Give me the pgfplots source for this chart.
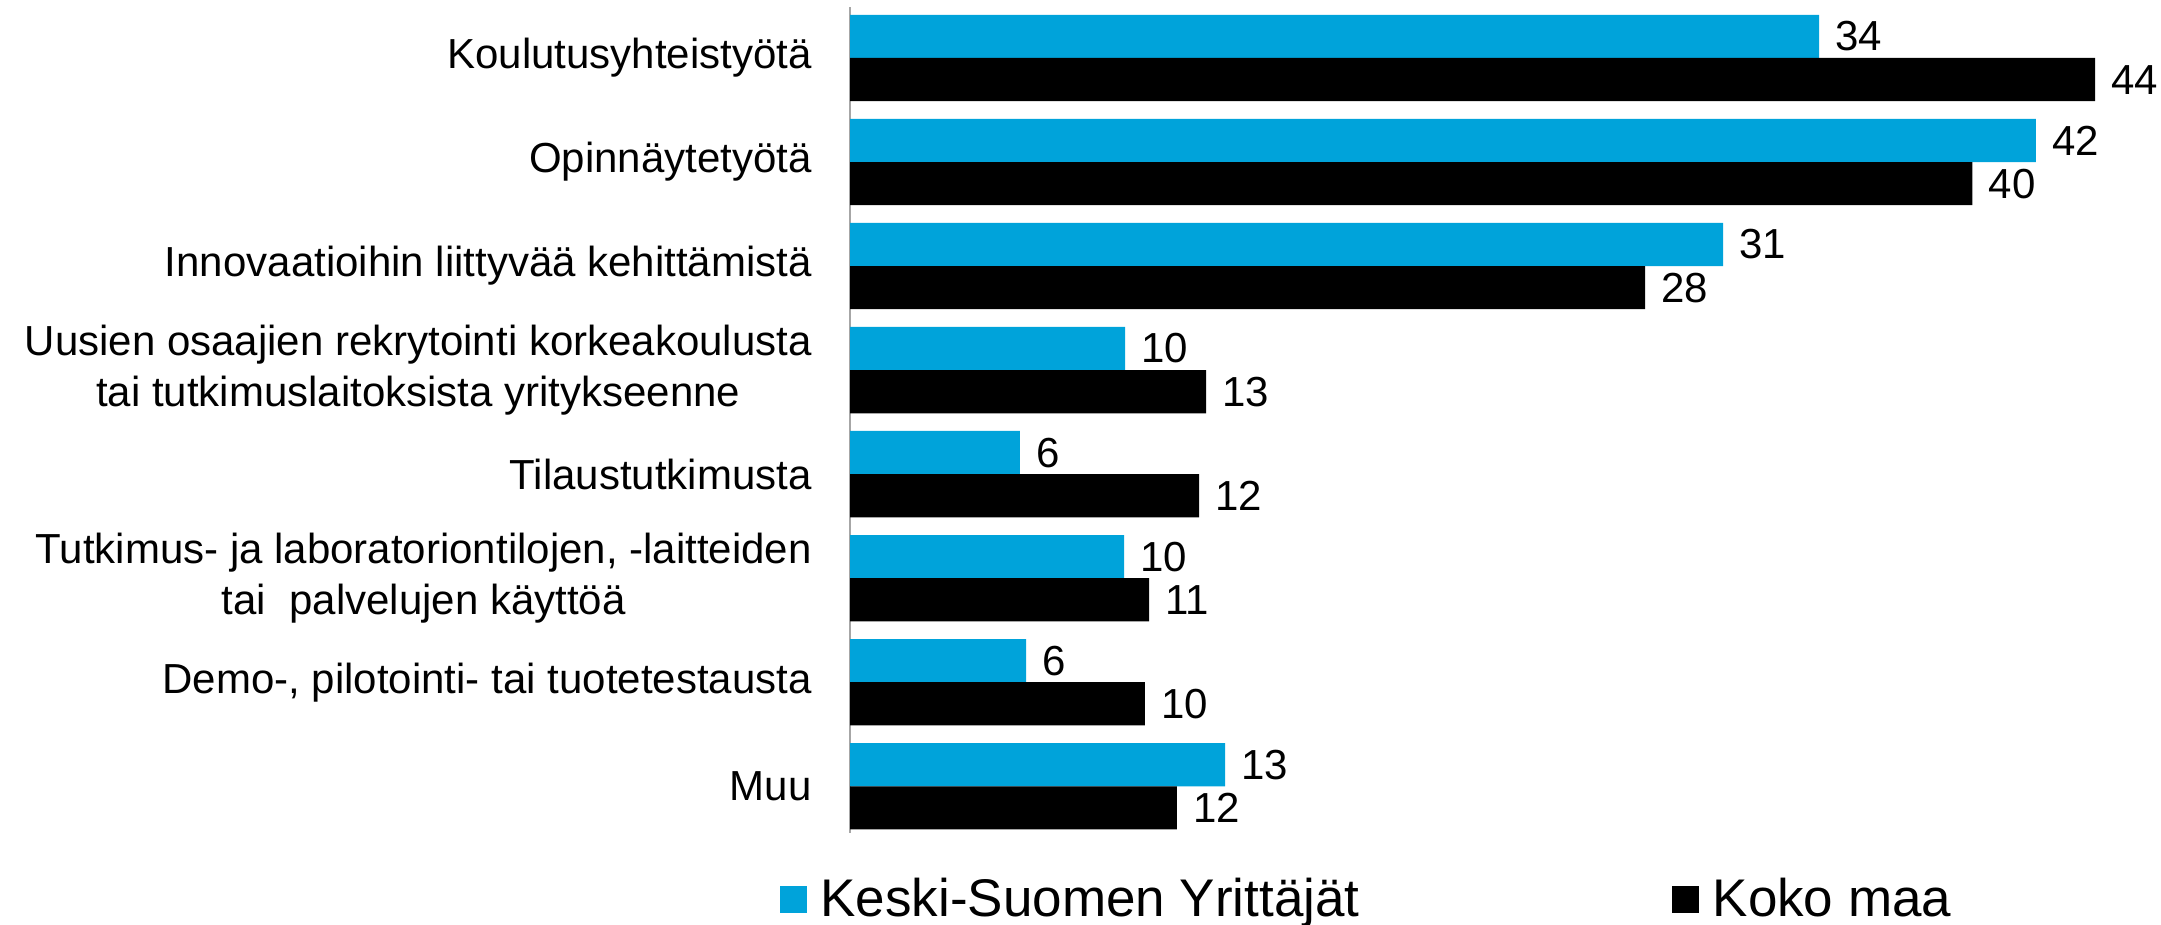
\documentclass[border=0pt]{standalone}
\usepackage{fontspec}
\setmainfont{Liberation Sans}
\usepackage{pgfplots}
\pgfplotsset{compat=1.18}

\definecolor{ksblue}{RGB}{0,163,218}

\begin{document}
\begin{tikzpicture}
\begin{axis}[
    name=ax,
    scale only axis,
    width=650.9pt, height=413pt,
    xbar,
    xmin=0, xmax=46,
    ymin=-0.49, ymax=7.45,
    y dir=reverse,
    bar width=0.415,
    axis lines*=left,
    x axis line style={draw=none},
    y axis line style={draw=gray!70, line width=1pt},
    xtick=\empty,
    ytick={0,...,7},
    yticklabels={
        {Koulutusyhteistyötä},
        {Opinnäytetyötä},
        {Innovaatioihin liittyvää kehittämistä},
        {Uusien osaajien rekrytointi korkeakoulusta\\tai tutkimuslaitoksista yritykseenne},
        {Tilaustutkimusta},
        {Tutkimus- ja laboratoriontilojen, -laitteiden\\tai~ palvelujen käyttöä},
        {Demo-, pilotointi- tai tuotetestausta},
        {Muu},
    },
    major tick length=0pt,
    yticklabel style={font=\fontsize{21}{25.5}\selectfont, align=center,
        anchor=east, inner sep=0pt, xshift=-19pt},
    % bars carry the unrounded lengths, labels show whole numbers
    nodes near coords={\pgfmathprintnumber[fixed, precision=0]{\pgfplotspointmeta}},
    nodes near coords style={font=\fontsize{21}{25.5}\selectfont, text=black,
        anchor=west, inner sep=0pt, xshift=8pt,
        /pgf/number format/assume math mode=true},
    legend columns=2,
    legend style={
        at={(-0.0545,-0.080)}, anchor=west,
        draw=none, inner sep=0pt,
        font=\fontsize{26.5}{30}\selectfont,
        /tikz/every odd column/.append style={column sep=7pt},
        /tikz/every even column/.append style={column sep=156pt},
        nodes={inner sep=0pt},
    },
    legend image code/.code={\fill[#1] (0pt,-6.75pt) rectangle (13.5pt,6.75pt);},
]

% Keski-Suomen Yrittäjät
\addplot[draw=none, fill=ksblue, bar shift=-0.2075]
    coordinates {(34.24,0) (41.9,1) (30.85,2) (9.72,3) (6.0,4) (9.68,5) (6.22,6) (13.25,7)};
\addlegendentry{Keski-Suomen Yrittäjät}

% Koko maa
\addplot[draw=none, fill=black, bar shift=0.2075]
    coordinates {(43.99,0) (39.65,1) (28.09,2) (12.58,3) (12.33,4) (10.57,5) (10.42,6) (11.55,7)};
\addlegendentry{Koko maa}

\end{axis}
\pgfresetboundingbox
\path[use as bounding box] ([xshift=-425pt, yshift=-45.5pt]ax.south west)
    rectangle ([xshift=4.5pt, yshift=3.5pt]ax.north east);
\end{tikzpicture}
\end{document}
